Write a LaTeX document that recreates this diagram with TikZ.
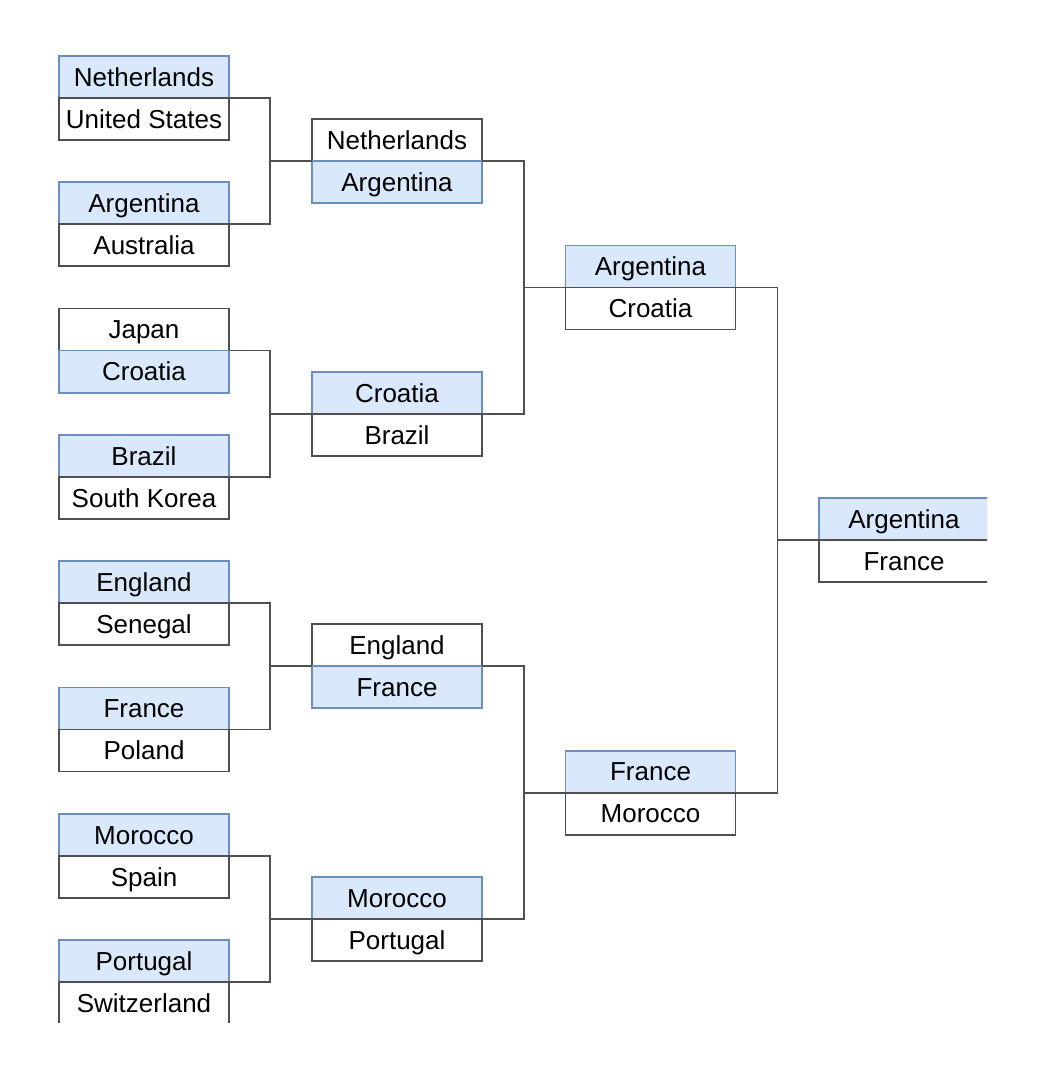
\documentclass[tikz,border=0pt]{standalone}
\usepackage{fontspec}
\setmainfont{Liberation Sans}
\usetikzlibrary{calc}
\definecolor{winfill}{HTML}{DAE8FC}
\definecolor{windraw}{HTML}{6C8EBF}
\definecolor{linegray}{HTML}{505050}
\tikzset{
  cell/.style={minimum width=85pt,minimum height=21pt,inner sep=0pt,outer sep=0pt,
    text height=9.3pt,text depth=0pt,font=\fontsize{13}{15}\selectfont},
  team/.style={cell,draw=linegray,fill=white},
  win/.style={cell,draw=windraw,fill=winfill},
  link/.style={draw=linegray}
}

\begin{document}
\begin{tikzpicture}[x=0.5pt,y=-0.5pt,line width=0.9pt]
\useasboundingbox (0,0) rectangle (1038,1079);
\begin{scope}
\clip (0,0) rectangle (987,1022);
% round of 16
\node[win]  (m1t) at (144,77) {Netherlands};
\node[team] (m1b) at (144,119) {United States};
\node[win]  (m2t) at (144,203.3) {Argentina};
\node[team] (m2b) at (144,245.3) {Australia};
\node[team] (m3t) at (144,329.6) {Japan};
\node[win]  (m3b) at (144,371.6) {Croatia};
\node[win]  (m4t) at (144,455.9) {Brazil};
\node[team] (m4b) at (144,497.9) {South Korea};
\node[win]  (m5t) at (144,582.2) {England};
\node[team] (m5b) at (144,624.2) {Senegal};
\node[win]  (m6t) at (144,708.5) {France};
\node[team] (m6b) at (144,750.5) {Poland};
\node[win]  (m7t) at (144,834.8) {Morocco};
\node[team] (m7b) at (144,876.8) {Spain};
\node[win]  (m8t) at (144,961.1) {Portugal};
\node[team] (m8b) at (144,1003.1) {Switzerland};
% quarter finals
\node[team] (q1t) at (397,140.15) {Netherlands};
\node[win]  (q1b) at (397,182.15) {Argentina};
\node[win]  (q2t) at (397,392.75) {Croatia};
\node[team] (q2b) at (397,434.75) {Brazil};
\node[team] (q3t) at (397,645.35) {England};
\node[win]  (q3b) at (397,687.35) {France};
\node[win]  (q4t) at (397,897.95) {Morocco};
\node[team] (q4b) at (397,939.95) {Portugal};
% semi finals
\node[win]  (s1t) at (650.5,266.45) {Argentina};
\node[team] (s1b) at (650.5,308.45) {Croatia};
\node[win]  (s2t) at (650.5,771.65) {France};
\node[team] (s2b) at (650.5,813.65) {Morocco};
% final
\node[win]  (ft) at (904,519.05) {Argentina};
\node[team] (fb) at (904,561.05) {France};
% links
\draw[link] (m1t.south east) -- ++(41,0) coordinate (k1) |- (m2t.south east);
\draw[link] (k1 |- q1t.south west) -- (q1t.south west);
\draw[link] (m3t.south east) -- ++(41,0) coordinate (k2) |- (m4t.south east);
\draw[link] (k2 |- q2t.south west) -- (q2t.south west);
\draw[link] (m5t.south east) -- ++(41,0) coordinate (k3) |- (m6t.south east);
\draw[link] (k3 |- q3t.south west) -- (q3t.south west);
\draw[link] (m7t.south east) -- ++(41,0) coordinate (k4) |- (m8t.south east);
\draw[link] (k4 |- q4t.south west) -- (q4t.south west);
\draw[link] (q1t.south east) -- ++(42,0) coordinate (k5) |- (q2t.south east);
\draw[link] (k5 |- s1t.south west) -- (s1t.south west);
\draw[link] (q3t.south east) -- ++(42,0) coordinate (k6) |- (q4t.south east);
\draw[link] (k6 |- s2t.south west) -- (s2t.south west);
\draw[link] (s1t.south east) -- ++(42,0) coordinate (k7) |- (s2t.south east);
\draw[link] (k7 |- ft.south west) -- (ft.south west);
\end{scope}
\end{tikzpicture}
\end{document}
